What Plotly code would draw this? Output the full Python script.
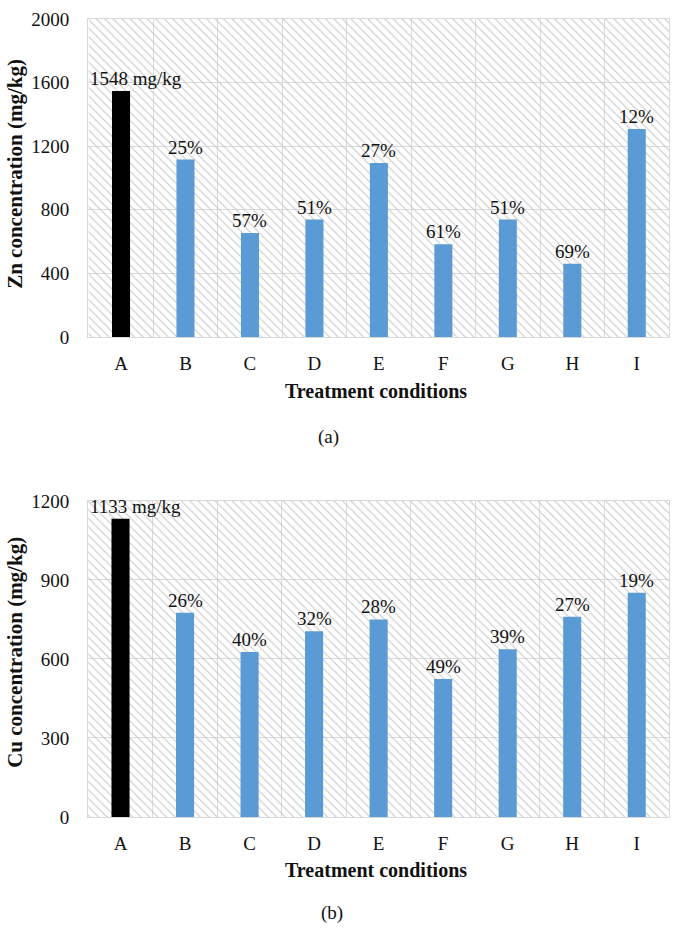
import plotly.graph_objects as go

categories = ["A", "B", "C", "D", "E", "F", "G", "H", "I"]
zn_values = [1548, 1116, 655, 739, 1094, 583, 739, 461, 1309]
zn_labels = ["1548 mg/kg", "25%", "57%", "51%", "27%", "61%", "51%", "69%", "12%"]
cu_values = [1133, 776, 627, 705, 750, 524, 637, 760, 852]
cu_labels = ["1133 mg/kg", "26%", "40%", "32%", "28%", "49%", "39%", "27%", "19%"]
zn_ticks = [0, 400, 800, 1200, 1600, 2000]
cu_ticks = [0, 300, 600, 900, 1200]

FONT = "Liberation Serif"
BLUE = "#5b9bd5"
colors = ["#000000"] + [BLUE] * (len(categories) - 1)

fig = go.Figure()

def add_panel(xa, ya, values, labels, ticks):
    ymax = ticks[-1]
    # hatched plot background
    fig.add_trace(go.Bar(
        x=categories, y=[ymax] * len(categories), width=1,
        marker=dict(color="#c8c8c8", line=dict(width=0),
                    pattern=dict(shape="\\", size=6, solidity=0.18, fillmode="replace")),
        xaxis=xa, yaxis=ya, hoverinfo="skip", showlegend=False))
    fig.add_trace(go.Bar(
        x=categories, y=values, width=0.28,
        marker=dict(color=colors, line=dict(width=0)),
        xaxis=xa, yaxis=ya, showlegend=False))
    for i, (c, v, lab) in enumerate(zip(categories, values, labels)):
        fig.add_annotation(
            x=c, y=v, xref=xa, yref=ya, text=lab, showarrow=False,
            yanchor="bottom", yshift=0, xshift=(15 if i == 0 else 0),
            font=dict(family=FONT, size=19, color="#111"))

add_panel("x", "y", zn_values, zn_labels, zn_ticks)
add_panel("x2", "y2", cu_values, cu_labels, cu_ticks)

axis_common = dict(showline=True, mirror=True, linecolor="#d9d9d9", linewidth=1,
                   showgrid=True, gridcolor="#d9d9d9", gridwidth=1, zeroline=False,
                   automargin=False,
                   tickfont=dict(family=FONT, size=19, color="#111"))

fig.update_layout(
    width=675, height=938, margin=dict(l=0, r=0, t=0, b=0, autoexpand=False),
    paper_bgcolor="white", plot_bgcolor="white", barmode="overlay",
    xaxis=dict(domain=[0.1304, 0.9911], anchor="y", tickson="boundaries",
               ticks="", ticklabelstandoff=9, **axis_common),
    yaxis=dict(domain=[0.6407, 0.9797], anchor="x", range=[0, zn_ticks[-1]],
               tickvals=zn_ticks, ticks="", ticklabelstandoff=14, **axis_common),
    xaxis2=dict(domain=[0.1304, 0.9911], anchor="y2", tickson="boundaries",
                ticks="", ticklabelstandoff=9, **axis_common),
    yaxis2=dict(domain=[0.1290, 0.4659], anchor="x2", range=[0, cu_ticks[-1]],
                tickvals=cu_ticks, ticks="", ticklabelstandoff=14, **axis_common),
)

for text, x, y, ang, size in [
    ("<b>Treatment conditions</b>", 0.557, 1 - 391 / 938, 0, 20),
    ("<b>Treatment conditions</b>", 0.557, 1 - 870 / 938, 0, 20),
    ("<b>Zn concentration (mg/kg)</b>", 0.022, 1 - 174 / 938, -90, 21),
    ("<b>Cu concentration (mg/kg)</b>", 0.022, 1 - 652 / 938, -90, 21),
    ("(a)", 0.487, 1 - 437 / 938, 0, 19),
    ("(b)", 0.492, 1 - 913 / 938, 0, 19),
]:
    fig.add_annotation(x=x, y=y, xref="paper", yref="paper", text=text,
                       showarrow=False, textangle=ang, xanchor="center",
                       yanchor="middle",
                       font=dict(family=FONT, size=size, color="#111"))

fig.write_html("out.html", config={"displayModeBar": False},
               post_script="document.body.style.margin='0';document.body.style.padding='0';")
